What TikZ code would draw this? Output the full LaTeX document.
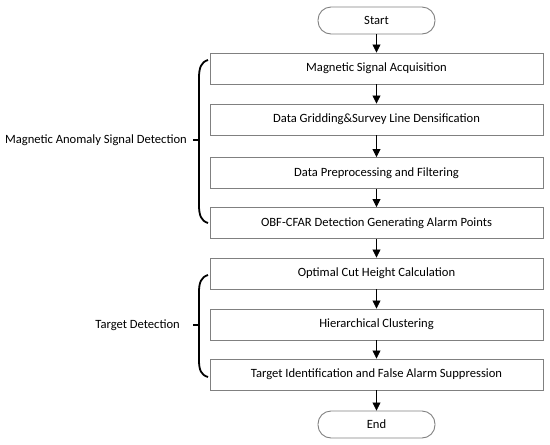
\documentclass[tikz,border=0pt]{standalone}
\usepackage{fontspec}
\setmainfont{Carlito}
\usetikzlibrary{arrows.meta}
\begin{document}
\begin{tikzpicture}[x=1pt,y=-1pt,
  procbox/.style={draw=black!50,line width=0.9pt,rectangle,minimum width=333pt,minimum height=31pt,inner sep=0pt,font=\fontsize{12.6}{14}\selectfont},
  termbox/.style={draw=black!50,line width=0.9pt,rectangle,rounded corners=13pt,minimum width=117pt,minimum height=27pt,inner sep=0pt,font=\fontsize{12.6}{14}\selectfont},
  flow/.style={-{Triangle[length=8pt,width=8pt]},line width=0.8pt,black},
  brace/.style={line width=1.8pt,black},
  grouplabel/.style={anchor=east,inner sep=0pt,font=\fontsize{12.6}{14}\selectfont}]
\useasboundingbox (0,0) rectangle (550,445);
\node[termbox] (start) at (376.5,20.5) {Start};
\node[procbox] (b1) at (376.5,68.5) {Magnetic Signal Acquisition};
\node[procbox] (b2) at (376.5,119.5) {Data Gridding\&Survey Line Densification};
\node[procbox] (b3) at (376.5,173) {Data Preprocessing and Filtering};
\node[procbox] (b4) at (376.5,223) {OBF-CFAR Detection Generating Alarm Points};
\node[procbox] (b5) at (376.5,273.5) {Optimal Cut Height Calculation};
\node[procbox] (b6) at (376.5,324.5) {Hierarchical Clustering};
\node[procbox] (b7) at (376.5,374.5) {Target Identification and False Alarm Suppression};
\node[termbox] (end) at (376.5,424.5) {End};
\draw[flow] (start) -- (b1);
\draw[flow] (b1) -- (b2);
\draw[flow] (b2) -- (b3);
\draw[flow] (b3) -- (b4);
\draw[flow] (b4) -- (b5);
\draw[flow] (b5) -- (b6);
\draw[flow] (b6) -- (b7);
\draw[flow] (b7) -- (end);
% upper brace
\draw[brace] (208,60) .. controls (201,62) and (199,68) .. (199,78) -- (199,205) .. controls (199,215) and (201,221) .. (208,223);
\draw[brace] (193,140) -- (199,140);
\node[grouplabel] (g1) at (187,140) {Magnetic Anomaly Signal Detection};
% lower brace
\draw[brace] (208,275) .. controls (201,277) and (199,283) .. (199,292) -- (199,360) .. controls (199,370) and (201,375) .. (208,377);
\draw[brace] (193,325) -- (199,325);
\node[grouplabel] (g2) at (180,325) {Target Detection};
\end{tikzpicture}
\end{document}
